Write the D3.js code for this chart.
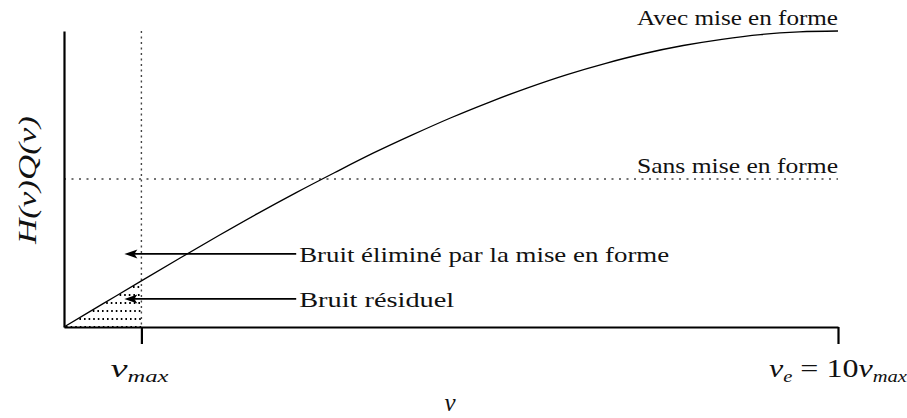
<!DOCTYPE html>
<html>
<head>
<meta charset="utf-8">
<script src="https://cdn.jsdelivr.net/npm/d3@7"></script>
<style>
  html, body { margin: 0; padding: 0; background: #fff; }
  svg { display: block; }
</style>
</head>
<body>
<svg id="chart" width="907" height="418"></svg>
<script>
// Frequency in units of nu_max, and the shaped noise H(nu)Q(nu) (relative to its maximum)
const freq    = [0, 0.5, 1, 1.5, 2, 2.5, 3, 3.5, 4, 4.5, 5, 5.5, 6, 6.5, 7, 7.5, 8, 8.5, 9, 9.5, 10];
const shaped  = [0, 0.078, 0.156, 0.233, 0.309, 0.383, 0.454, 0.522, 0.588, 0.649, 0.707,
                 0.760, 0.809, 0.853, 0.891, 0.924, 0.951, 0.972, 0.988, 0.997, 1];
// Flat noise level without shaping
const unshapedLevel = 0.5;
// Signal band edge
const bandEdge = 1;
// Levels of the dotted hatching inside the signal band (residual noise)
const hatchLevels = [0, 0.027, 0.054, 0.081, 0.108, 0.135];
// Annotation arrows: level, start, tip, label
const arrowLevels = [0.247, 0.095];
const arrowStart  = 3.0;
const arrowTip    = 0.78;
const arrowLabels = ["Bruit éliminé par la mise en forme", "Bruit résiduel"];
const curveLabels = ["Avec mise en forme", "Sans mise en forme"];
// X tick positions
const xTicks = [1, 10];

const FONT = "'Liberation Serif', 'Times New Roman', Tinos, 'Nimbus Roman', 'DejaVu Serif', serif";

const svg = d3.select("#chart")
  .attr("font-family", FONT).style("font-family", FONT);
const x = d3.scaleLinear().domain([0, 10]).range([64, 838]);
const y = d3.scaleLinear().domain([0, 1]).range([327, 31]);

// hatching under the shaped curve inside the band
const inv = d3.scaleLinear().domain(shaped.slice(0, 5)).range(freq.slice(0, 5));
svg.append("g").selectAll("line").data(hatchLevels).join("line")
  .attr("x1", d => x(inv(d)) + 2)
  .attr("x2", x(bandEdge))
  .attr("y1", d => y(d)).attr("y2", d => y(d))
  .attr("stroke", "#000").attr("stroke-width", 2)
  .attr("stroke-dasharray", "1.6,3");

// dotted reference lines
svg.append("line")
  .attr("x1", x(0)).attr("x2", x(10))
  .attr("y1", y(unshapedLevel)).attr("y2", y(unshapedLevel))
  .attr("stroke", "#444").attr("stroke-width", 1.3)
  .attr("stroke-dasharray", "2,5.5");
svg.append("line")
  .attr("x1", x(bandEdge)).attr("x2", x(bandEdge))
  .attr("y1", y(1)).attr("y2", y(0))
  .attr("stroke", "#444").attr("stroke-width", 1.4)
  .attr("stroke-dasharray", "2,3.5");

// shaped noise curve
const line = d3.line().x((d, i) => x(freq[i])).y(d => y(d)).curve(d3.curveMonotoneX);
svg.append("path").datum(shaped)
  .attr("d", line)
  .attr("fill", "none").attr("stroke", "#000").attr("stroke-width", 1.3);

// axes
const xAxis = d3.axisBottom(x).tickValues(xTicks).tickSize(17).tickSizeOuter(0).tickFormat("");
const gx = svg.append("g").attr("transform", `translate(0,${y(0)})`).call(xAxis);
gx.select(".domain").attr("stroke", "#000").attr("stroke-width", 2.2);
gx.selectAll(".tick line").attr("stroke", "#000").attr("stroke-width", 2.2);

const yAxis = d3.axisLeft(y).tickValues([]).tickSizeOuter(0);
const gy = svg.append("g").attr("transform", `translate(${x(0)},0)`).call(yAxis);
gy.select(".domain").attr("stroke", "#000").attr("stroke-width", 2.2);

function txt(sel) {
  return sel.append("text").attr("font-family", FONT).attr("fill", "#111");
}

// tick labels with subscripts
function nuLabel(g, parts) {
  parts.forEach(p => {
    const t = g.append("tspan").text(p.t).attr("font-style", "italic");
    if (p.sub) t.attr("font-size", 16).attr("dy", p.dy);
    else t.attr("font-size", 25).attr("dy", p.dy || 0);
  });
}
const t1 = txt(svg).attr("x", x(xTicks[0]) - 2).attr("y", 377).attr("text-anchor", "middle")
  .attr("textLength", 58).attr("lengthAdjust", "spacingAndGlyphs");
nuLabel(t1, [{t: "ν"}, {t: "max", sub: true, dy: 5}]);
const t2 = txt(svg).attr("x", x(xTicks[1])).attr("y", 377).attr("text-anchor", "middle")
  .attr("textLength", 138).attr("lengthAdjust", "spacingAndGlyphs");
nuLabel(t2, [{t: "ν"}, {t: "e", sub: true, dy: 5}]);
t2.append("tspan").text(" = 10").attr("font-size", 25).attr("dy", -5);
nuLabel(t2, [{t: "ν"}, {t: "max", sub: true, dy: 5}]);

// axis titles
txt(svg).attr("x", 450).attr("y", 411).attr("text-anchor", "middle")
  .attr("font-size", 25).attr("font-style", "italic").text("ν");
txt(svg).attr("transform", `translate(36,180) rotate(-90)`)
  .attr("text-anchor", "middle").attr("font-size", 25).attr("font-style", "italic")
  .attr("textLength", 128).attr("lengthAdjust", "spacingAndGlyphs")
  .text("H(ν)Q(ν)");

// curve labels
txt(svg).attr("x", x(10)).attr("y", 25).attr("text-anchor", "end")
  .attr("font-size", 22).attr("textLength", 201).attr("lengthAdjust", "spacingAndGlyphs")
  .text(curveLabels[0]);
txt(svg).attr("x", x(10)).attr("y", y(unshapedLevel) - 6).attr("text-anchor", "end")
  .attr("font-size", 22).attr("textLength", 201).attr("lengthAdjust", "spacingAndGlyphs")
  .text(curveLabels[1]);

// annotation arrows
const arrows = svg.append("g");
arrowLevels.forEach((lv, i) => {
  const yy = y(lv), xt = x(arrowTip), xs = x(arrowStart);
  arrows.append("line").attr("x1", xs).attr("x2", xt + 8).attr("y1", yy).attr("y2", yy)
    .attr("stroke", "#000").attr("stroke-width", 1.6);
  arrows.append("path")
    .attr("d", `M${xt},${yy} L${xt + 13},${yy - 4.5} L${xt + 10},${yy} L${xt + 13},${yy + 4.5} Z`)
    .attr("fill", "#000");
  txt(arrows).attr("x", xs + 3).attr("y", yy + 8)
    .attr("font-size", 22)
    .attr("textLength", i === 0 ? 370 : 155).attr("lengthAdjust", "spacingAndGlyphs")
    .text(arrowLabels[i]);
});
</script>
</body>
</html>
